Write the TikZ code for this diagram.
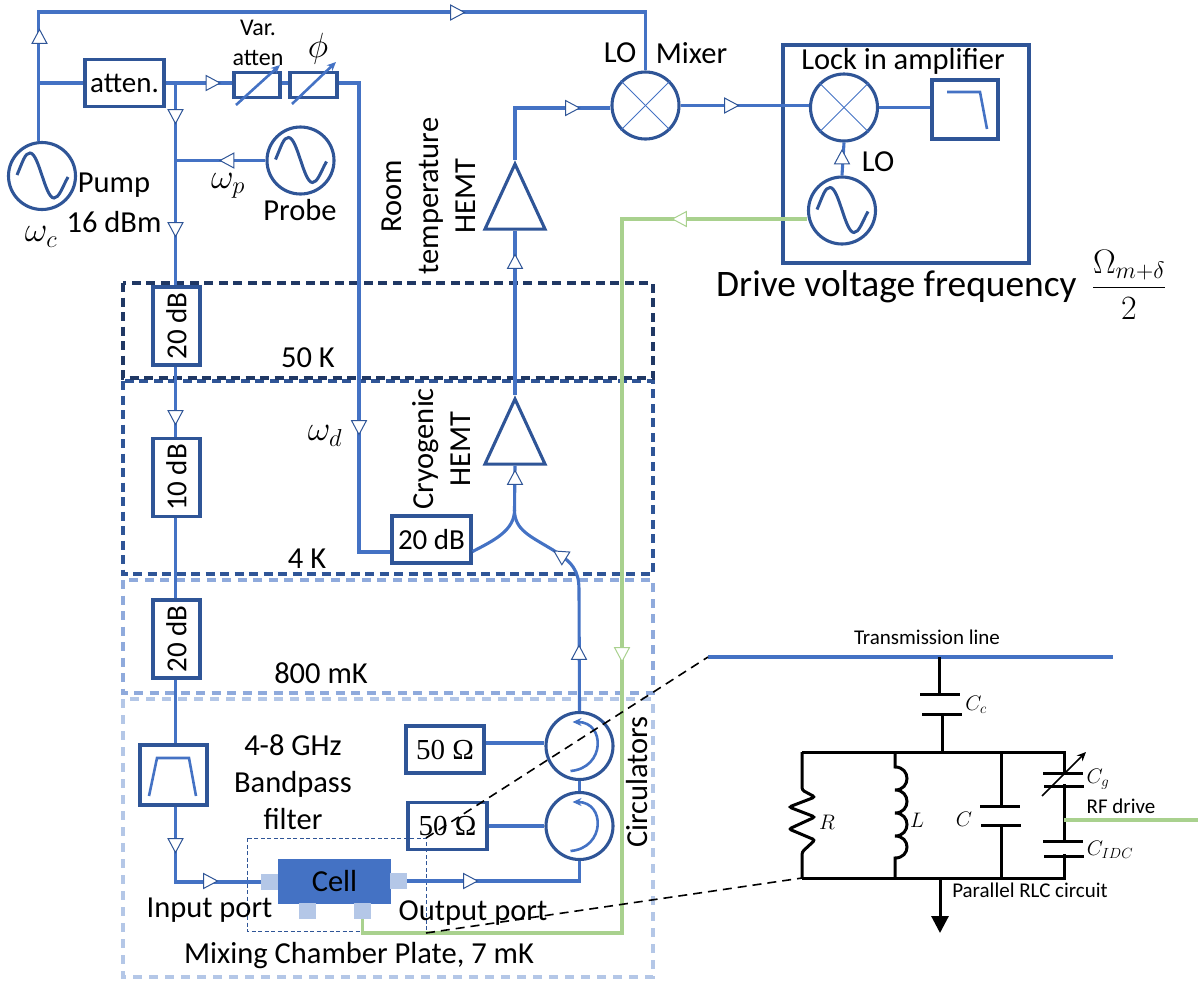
\documentclass[tikz,border=0pt]{standalone}
\usepackage{fix-cm}
\usepackage{amsmath}
\usepackage{fontspec}
\setmainfont{Carlito}
\newfontfamily\ohmfont{Liberation Serif}
\usepackage{tikz}
\usetikzlibrary{positioning, calc, shapes.geometric, arrows.meta}
\definecolor{wireblue}{HTML}{4472C4}
\definecolor{boxblue}{HTML}{2F5597}
\definecolor{stagedark}{HTML}{203864}
\definecolor{stagemid}{HTML}{2F5597}
\definecolor{stagelight}{HTML}{8FAADC}
\definecolor{stagepale}{HTML}{B4C7E7}
\definecolor{drivegreen}{HTML}{A9D18E}
\tikzset{
    wire/.style={draw=wireblue, line width=3.1pt},
    greenwire/.style={draw=drivegreen, line width=3.1pt},
    blackwire/.style={draw=black, line width=3pt},
    boxnode/.style={draw=boxblue, line width=3.1pt, inner sep=0pt, font=\fontsize{29}{30}\selectfont},
    srcnode/.style={circle, draw=boxblue, line width=3.1pt, minimum size=67pt, inner sep=0pt},
    mixnode/.style={srcnode},
    ampnode/.style={isosceles triangle, isosceles triangle stretches, shape border rotate=90, draw=boxblue, line width=3.1pt, inner sep=0pt, minimum width=60pt, minimum height=65pt, anchor=apex},
    flowtip/.style={isosceles triangle, isosceles triangle stretches, draw=boxblue, fill=white, line width=1pt, inner sep=0pt, minimum width=15pt, minimum height=14pt},
    padnode/.style={fill=stagepale, inner sep=0pt, minimum width=17pt, minimum height=16pt},
    lbl/.style={inner sep=0pt, align=center, font=\fontsize{30.5}{37}\selectfont},
    midlbl/.style={inner sep=0pt, align=center, font=\fontsize{24}{30}\selectfont},
    smalllbl/.style={inner sep=0pt, align=center, font=\fontsize{21}{26}\selectfont},
    mathlbl/.style={inner sep=0pt, font=\fontsize{35}{37}\selectfont},
    stage/.style={line width=3.1pt},
    tune/.style={-{Stealth[length=9pt,width=8pt]}, draw=wireblue, line width=2.6pt},
    leader/.style={draw=black, line width=1.6pt, dash pattern=on 9pt off 6pt},
}
\begin{document}
\begin{tikzpicture}[x=1pt, y=-1pt]
\useasboundingbox (0,0) rectangle (1200,983);
\foreach \ya/\yb/\col/\gap in {699/977/stagepale/7, 580/693/stagelight/6.5, 381/574/stagemid/5.5, 283/378/stagedark/5.5} {
    \draw[stage, draw=\col, dash pattern=on 9pt off \gap pt] (123,\ya) rectangle (653,\yb);
}
\draw[draw=boxblue, line width=0.8pt, dash pattern=on 4pt off 2.5pt] (247,838) rectangle (426,931);

\node[srcnode] (pump) at (42,176) {};
\node[srcnode] (probe) at (300.5,160.5) {};
\node[srcnode] (lisrc) at (842,210.5) {};
\node[boxnode, minimum width=79pt, minimum height=47pt] (atten) at (124.5,83) {atten.};
\node[boxnode, minimum width=46pt, minimum height=25pt] (varatt) at (257,85) {};
\node[boxnode, minimum width=47pt, minimum height=25pt] (phase) at (313.5,85) {};
\foreach \name/\val/\ypos in {att50/20/326, att4/10/477.5, att800/20/639} {
    \node[boxnode, minimum width=47pt, minimum height=78pt] (\name) at (176.5,\ypos) {\rotatebox{90}{\val\ dB}};
}
\node[boxnode, minimum width=79pt, minimum height=47pt] (cryoatt) at (431.5,539.5) {20 dB};
\node[boxnode, minimum width=67pt, minimum height=60pt] (bandpass) at (173.5,775) {};
\node[boxnode, minimum width=78pt, minimum height=47pt] (termtop) at (445,749.5) {\ohmfont 50 Ω};
\node[boxnode, minimum width=79pt, minimum height=47pt] (termbot) at (447.5,826) {\ohmfont 50 Ω};
\node[srcnode] (cirtop) at (579.5,746) {};
\node[srcnode] (cirbot) at (579.5,826) {};
\node[mixnode] (mixer) at (645.5,105.5) {};
\node[mixnode] (limix) at (844,107.5) {};
\node[boxnode, minimum width=66pt, minimum height=59pt] (lowpass) at (965,109.5) {};
\node[draw=boxblue, line width=3.1pt, inner sep=0pt, minimum width=246pt, minimum height=218pt] (lockin) at (906,154) {};
\node[ampnode] (hemtroom) at (515,160) {};
\node[ampnode] (hemtcryo) at (515,395) {};
\node[fill=wireblue, inner sep=0pt, minimum width=113pt, minimum height=45pt, font=\fontsize{30.5}{32}\selectfont] (cell) at (334.5,881.5) {Cell};
\node[padnode] (padin) at (269.5,882) {};
\node[padnode] (padout) at (398.5,881) {};
\node[padnode] (padb) at (307.5,911) {};
\node[padnode] (padg) at (362.5,911) {};

\coordinate (jpump) at (39.5,83);
\coordinate (mixtop) at (645.5,12);
\coordinate (jatt) at (175.5,83);
\coordinate (jprobe) at (175.5,160.5);
\coordinate (dturn) at (359,552);
\coordinate (jout) at (514.5,510);
\coordinate (greentop) at (622,219);
\coordinate (greenbot) at (622,933);

\draw[wire] (pump.95) |- (mixtop) -- (mixer.north);
\draw[wire] (jpump) -- (atten.west);
\draw[wire] (atten.east) -- (varatt.west |- atten.east);
\draw[wire] (varatt.east |- atten.east) -- (phase.west |- atten.east);
\draw[wire] (phase.east |- atten.east) -| (dturn) -- (cryoatt.west |- dturn);
\draw[wire] (jatt) -- (jatt |- att50.north);
\draw[wire] (probe.west) -- (jprobe);
\draw[wire] (jatt |- att50.south) -- (jatt |- att4.north);
\draw[wire] (jatt |- att4.south) -- (jatt |- att800.north);
\draw[wire] (jatt |- att800.south) -- (jatt |- bandpass.north);
\draw[wire] (jatt |- bandpass.south) |- (padin.west);
\draw[wire] (padout.east) -| (cirbot.south);
\draw[wire] (cirbot.north) -- (cirtop.south);
\draw[wire] (termtop.east |- 0,743) -- (cirtop.west |- 0,743);
\draw[wire] (termbot.east) -- (cirbot.west);
\draw[wire] (cirtop.north) -- (579,590) .. controls (579,570) and (572,562) .. (553,550) .. controls (530,536) and (514.5,530) .. (jout);
\draw[wire] (cryoatt.east) ++(0,12) .. controls (495,540) and (514.5,530) .. (jout);
\draw[wire] (jout) -- (hemtcryo.lower side);
\draw[wire] (hemtcryo.apex) -- (hemtroom.lower side);
\draw[wire] (hemtroom.apex) |- (mixer.west |- 0,108);
\draw[wire] (mixer.east) -- (limix.west |- mixer.east);
\draw[wire] (limix.east) -- (lowpass.west |- limix.east);
\draw[wire] (lisrc.north) -- (limix.south);
\draw[greenwire] (lisrc.west |- greentop) -- (greentop) -- (greenbot) -| (padg.south);

\foreach \s in {pump, probe, lisrc} {
    \draw[draw=boxblue, line width=3pt] ($(\s)+(-25,-1)$) .. controls ($(\s)+(-19,-15)$) and ($(\s)+(-17,-23)$) .. ($(\s)+(-12,-23)$) .. controls ($(\s)+(-3,-23)$) and ($(\s)+(3,22)$) .. ($(\s)+(12,22)$) .. controls ($(\s)+(17,22)$) and ($(\s)+(20,12)$) .. ($(\s)+(26,1)$);
}
\foreach \m in {mixer, limix} {
    \draw[draw=wireblue, line width=0.9pt] (\m.north west) -- (\m.south east);
    \draw[draw=wireblue, line width=0.9pt] (\m.north east) -- (\m.south west);
}
\foreach \c in {cirtop, cirbot} {
    \draw[tune] ($(\c)+(-9,25)$) .. controls ($(\c)+(26,22)$) and ($(\c)+(26,-24)$) .. ($(\c)+(-7,-24)$);
}
\draw[tune] (236,105) -- (280,65);
\draw[tune] (292,104) -- (336,62);
\draw[draw=wireblue, line width=2.6pt] (149,796) -- (157,758) -- (189,758) -- (196,796);
\draw[draw=wireblue, line width=2.6pt] (947,92) -- (980,92) -- (987,129);

\foreach \i/\xpos/\ypos/\ang in {1/39.5/39/90, 2/455/12.5/0, 3/210.5/83/0, 4/175.5/114/-90, 5/175.5/227/-90, 6/229.5/160.5/180, 7/570/108/0, 8/729/105.5/0, 9/842/159.5/90, 10/515/264/90, 11/175.5/415/-90, 12/359/425/-90, 13/515/480/90, 14/562/556/148, 15/579/655/90, 16/175.5/843/-90, 17/208/881/0, 18/468/881/0} {
    \node[flowtip, rotate=\ang] (tip\i) at (\xpos,\ypos) {};
}
\node[flowtip, draw=drivegreen, rotate=180] (tipg1) at (682,219) {};
\node[flowtip, draw=drivegreen, rotate=-90] (tipg2) at (622,652) {};

\node[midlbl] (lvar) at (258,28) {Var.};
\node[midlbl] (lvaratt) at (258,58) {atten};
\node[mathlbl] (lphi) at (318,49) {$\phi$};
\node[lbl] (lpump) at (114,185) {Pump};
\node[lbl] (lpumpdbm) at (114,222) {16 dBm};
\node[mathlbl] (lwc) at (41,237) {$\omega_c$};
\node[mathlbl] (lwp) at (228,186) {$\omega_p$};
\node[lbl] (lprobe) at (300,210) {Probe};
\node[lbl, rotate=90] (lroom) at (429,196) {Room\\temperature\\HEMT};
\node[lbl, rotate=90] (lcryo) at (442,449) {Cryogenic\\HEMT};
\node[mathlbl] (lwd) at (325,436) {$\omega_d$};
\node[lbl] (lfiftyk) at (308,358) {50 K};
\node[lbl] (lfourk) at (307,559) {4 K};
\node[lbl] (leight) at (321,673) {800 mK};
\node[lbl] (lband) at (293,782) {4-8 GHz\\Bandpass\\filter};
\node[lbl] (lin) at (209.5,910) {Input port};
\node[lbl] (lout) at (473,913) {Output port};
\node[lbl] (lplate) at (359,956) {Mixing Chamber Plate, 7 mK};
\node[lbl, rotate=90] (lcirc) at (637,782) {Circulators};
\node[lbl] (llo) at (620,53) {LO};
\node[lbl] (lmix) at (691.5,53) {Mixer};
\node[lbl] (llock) at (903,61) {Lock in amplifier};
\node[lbl] (llilo) at (878,162) {LO};
\node[lbl, font=\fontsize{37.4}{40}\selectfont, anchor=west] (ldrive) at (716,287) {Drive voltage frequency};
\node[inner sep=0pt, font=\fontsize{34}{36}\selectfont] (lfreq) at (1129,285) {$\dfrac{\Omega_{m+\delta}}{2}$};

\coordinate (tlleft) at (708,657);
\coordinate (tlright) at (1113,657);
\coordinate (railtl) at (802,752);
\coordinate (railtr) at (1064,752);
\coordinate (railbl) at (802,878);
\coordinate (railbr) at (1064,878);
\coordinate (gndtip) at (940,933);
\coordinate (rfend) at (1198,820);

\draw[wire] (tlleft) -- (tlright);
\draw[blackwire] (railtl) -- (railtr) -- (railbr) -- (railbl);
\draw[blackwire, rounded corners=2.5pt] (railtl) -- (802,790) -- (815,797) -- (789,807) -- (815,817) -- (789,829) -- (815,840) -- (802,852) -- (railbl);
\draw[blackwire] (895,752) -- (895,767) .. controls (911,767) and (911,790) .. (895,790) .. controls (911,790) and (911,813) .. (895,813) .. controls (911,813) and (911,836) .. (895,836) .. controls (911,836) and (911,858) .. (895,858) -- (895,878);
\draw[blackwire] (939,657) -- (939,694);
\draw[blackwire] (920,694) -- (960,694);
\draw[blackwire] (922,714) -- (962,714);
\draw[blackwire] (942,714) -- (942,752);
\draw[blackwire] (1001,752) -- (1001,806);
\draw[blackwire] (1001,825) -- (1001,878);
\draw[blackwire] (980,806) -- (1020,806);
\draw[blackwire] (981,825) -- (1021,825);
\draw[draw=white, line width=4pt] (1064,775) -- (1064,784);
\draw[blackwire] (1043,773) -- (1083,773);
\draw[blackwire] (1044,786) -- (1084,786);
\draw[draw=white, line width=4pt] (1064,843) -- (1064,854);
\draw[blackwire] (1043,841) -- (1083,841);
\draw[blackwire] (1044,856) -- (1084,856);
\draw[draw=black, line width=1.6pt, -{Stealth[length=9pt,width=8pt]}] (1042,796) -- (1086,752);
\draw[blackwire, -{Triangle[length=17pt,width=17pt]}] (940,878) -- (gndtip);
\draw[greenwire] (1064,820) -- (rfend);

\node[smalllbl] (ltl) at (927,637) {Transmission line};
\node[smalllbl] (lrlc) at (1030,890) {Parallel RLC circuit};
\node[smalllbl] (lrf) at (1121,806) {RF drive};
\node[smalllbl] (lcc) at (976,705) {$C_c$};
\node[smalllbl] (lr) at (827,822) {$R$};
\node[smalllbl] (ll) at (917,820) {$L$};
\node[smalllbl] (lc) at (964,819) {$C$};
\node[smalllbl] (lcg) at (1098,779) {$C_g$};
\node[smalllbl] (lcidc) at (1110,850) {$C_{IDC}$};

\draw[leader] (426,838) -- (tlleft);
\draw[leader] (426,933) -- (railbl);
\end{tikzpicture}
\end{document}
